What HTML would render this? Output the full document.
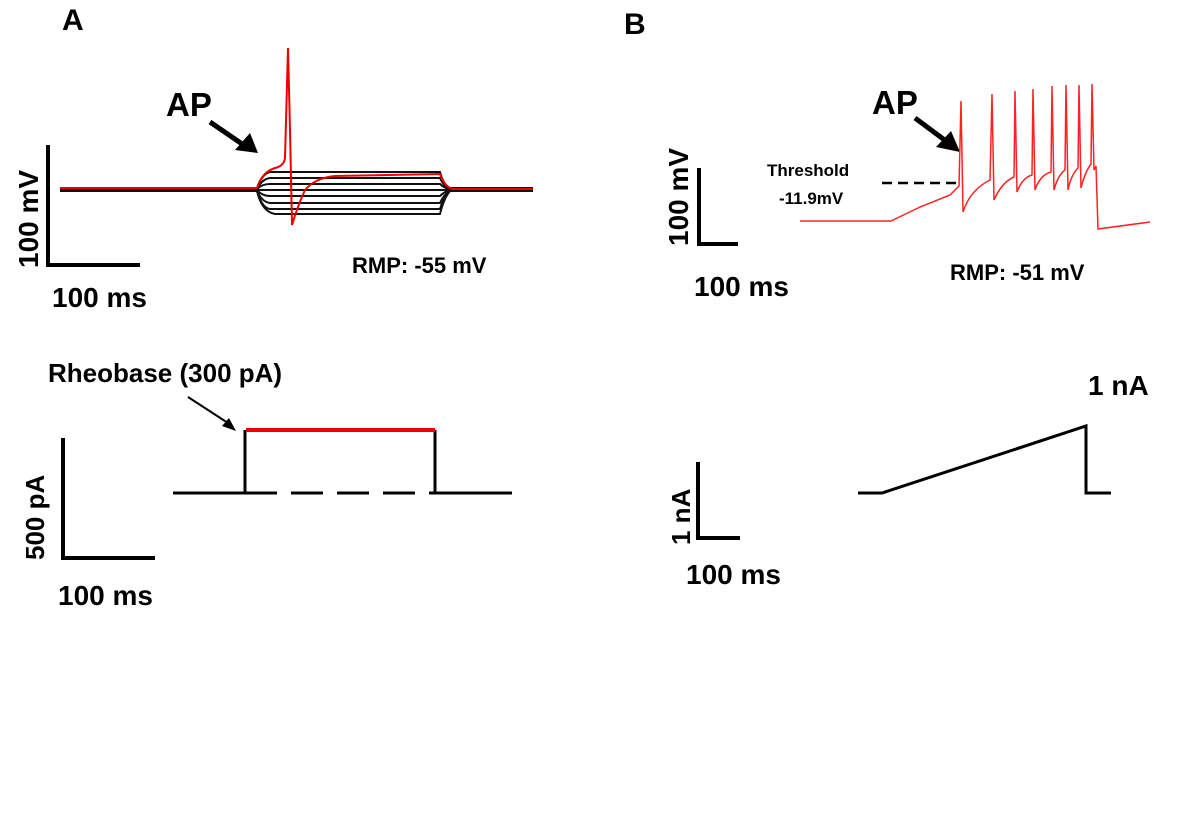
<!DOCTYPE html>
<html><head><meta charset="utf-8"><style>
body{margin:0;background:#fff}
svg text{font-family:"Liberation Sans",Arial,sans-serif;font-weight:bold;fill:#000}
</style></head><body>
<svg width="1200" height="810" viewBox="0 0 1200 810" xmlns="http://www.w3.org/2000/svg">
<text x="62" y="30" font-size="30">A</text>
<text x="624" y="34" font-size="30">B</text>

<!-- Panel A top -->
<path d="M48,145 V265 H140" stroke="#000" stroke-width="4" fill="none"/>
<text transform="translate(38,268) rotate(-90)" font-size="28">100 mV</text>
<text x="52" y="307" font-size="28">100 ms</text>
<text x="352" y="273" font-size="22">RMP: -55 mV</text>
<text x="166" y="116" font-size="33">AP</text>
<line x1="210" y1="122" x2="248" y2="148" stroke="#000" stroke-width="5"/>
<path d="M235,150 L258,153 L250,133 Z" fill="#000"/>
<g stroke="#111" stroke-width="2" fill="none">
<path d="M60,188 H257 Q262,174 270,172 H440 Q444,186 450,188 H533"/>
<path d="M60,189 H257 Q262,179 270,178 H440 Q444,187 450,189 H533"/>
<path d="M60,189 H257 Q262,184 270,184 H440 Q444,188 450,189 H533"/>
<path d="M60,190 H257 Q262,190 270,190 H440 Q444,190 450,190 H533"/>
<path d="M60,190 H257 Q262,196 270,196 H440 Q444,192 450,190 H533"/>
<path d="M60,191 H257 Q262,202 270,203 H440 Q444,194 450,191 H533"/>
<path d="M60,191 H257 Q262,208 270,209 H440 Q444,196 450,191 H533"/>
<path d="M60,191 H257 Q262,212 275,214 H440 Q444,198 450,191 H533"/>
</g>
<path d="M60,188 H257 Q262,172 275,168 Q284,166 285,158 L288,48 L290,130 L292,225 Q298,205 305,190 Q315,178 335,176 L440,174 Q444,186 452,189 H533" stroke="#e00" stroke-width="2" fill="none"/>

<!-- Panel A bottom -->
<path d="M63,438 V558 H155" stroke="#000" stroke-width="4" fill="none"/>
<text transform="translate(44,560) rotate(-90)" font-size="26">500 pA</text>
<text x="58" y="605" font-size="28">100 ms</text>
<text x="48" y="382" font-size="26">Rheobase (300 pA)</text>
<line x1="188" y1="397" x2="228" y2="423" stroke="#000" stroke-width="2"/>
<path d="M222,426 L236,431 L229,418 Z" fill="#000"/>
<path d="M173,493 H245 V430 M435,430 V493 H512" stroke="#000" stroke-width="3" fill="none"/>
<line x1="245" y1="493" x2="435" y2="493" stroke="#000" stroke-width="3" stroke-dasharray="32,14"/>
<line x1="246" y1="430" x2="435" y2="430" stroke="#e00" stroke-width="4"/>

<!-- Panel B top -->
<path d="M699,168 V244 H738" stroke="#000" stroke-width="4" fill="none"/>
<text transform="translate(688,246) rotate(-90)" font-size="28">100 mV</text>
<text x="694" y="296" font-size="28">100 ms</text>
<text x="950" y="280" font-size="22">RMP: -51 mV</text>
<text x="872" y="114" font-size="33">AP</text>
<line x1="915" y1="118" x2="950" y2="144" stroke="#000" stroke-width="5"/>
<path d="M936,147 L960,152 L951,131 Z" fill="#000"/>
<text x="767" y="176" font-size="17">Threshold</text>
<text x="779" y="204" font-size="17">-11.9mV</text>
<line x1="882" y1="183" x2="958" y2="183" stroke="#000" stroke-width="2.5" stroke-dasharray="10,6"/>
<path d="M800,221 H891 L920,207 L950,195 L959,186 L961,101 L963,212 Q970,190 990,180 L992,94 L994,200 Q1002,182 1014,177 L1015,91 L1017,192 Q1022,178 1032,175 L1033,89 L1035,190 Q1040,175 1051,172 L1052,86 L1054,190 Q1058,175 1065,170 L1066,85 L1068,190 Q1071,175 1078,168 L1079,85 L1081,188 Q1085,172 1091,164 L1092,84 L1094,170 L1096,166 L1098,229 Q1120,226 1150,222" stroke="#f22" stroke-width="1.5" fill="none"/>

<!-- Panel B bottom -->
<path d="M698,462 V538 H740" stroke="#000" stroke-width="4" fill="none"/>
<text transform="translate(690,545) rotate(-90)" font-size="26">1 nA</text>
<text x="686" y="584" font-size="28">100 ms</text>
<text x="1088" y="395" font-size="28">1 nA</text>
<path d="M858,493 H882 L1086,426 V493 H1111" stroke="#000" stroke-width="3" fill="none"/>
</svg>
</body></html>
